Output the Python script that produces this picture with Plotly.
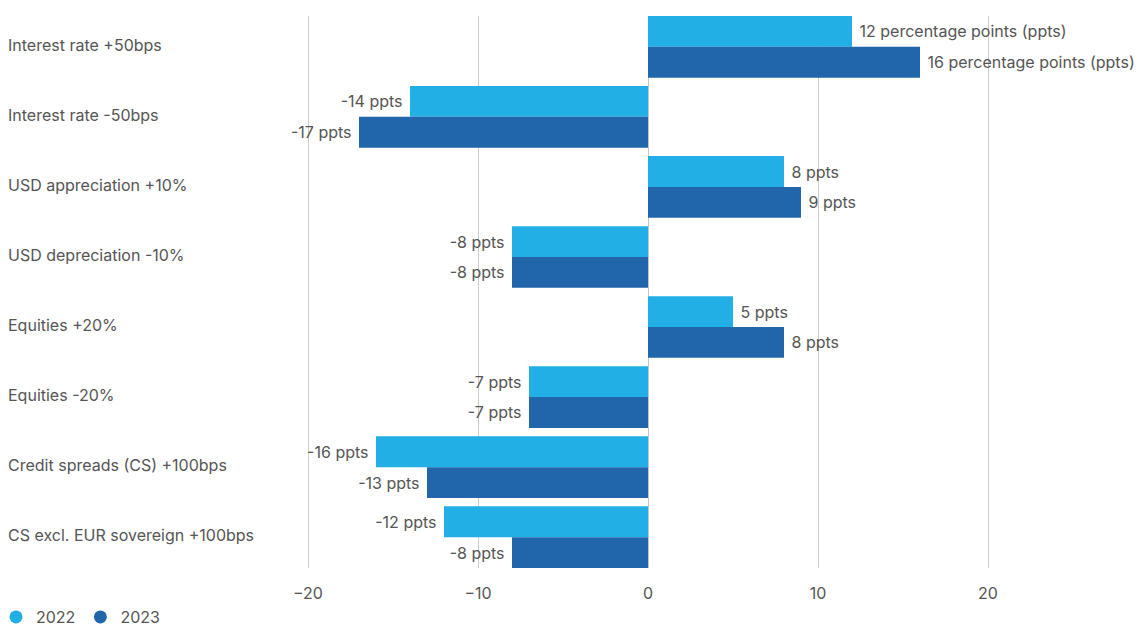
import plotly.graph_objects as go

# Stress scenarios and their impact (percentage points)
scenarios = [
    "Interest rate +50bps",
    "Interest rate -50bps",
    "USD appreciation +10%",
    "USD depreciation -10%",
    "Equities +20%",
    "Equities -20%",
    "Credit spreads (CS) +100bps",
    "CS excl. EUR sovereign +100bps",
]
values_2022 = [12, -14, 8, -8, 5, -7, -16, -12]
values_2023 = [16, -17, 9, -8, 8, -7, -13, -8]
tick_values = [-20, -10, 0, 10, 20]

LIGHT = "#21afe5"
DARK = "#2166ab"
TEXT = "#555555"
FONT = "Inter"
FS = 16

W, H = 1136, 626
ML, MR, MT, MB = 0, 0, 16, 58
x_lo, x_hi = -22.5, 28.5
px_per_unit = 17
zero_px = 648
dom_left = (zero_px + x_lo * px_per_unit) / W
dom_right = (zero_px + x_hi * px_per_unit) / W
BARGAP = 0.12
PAD = "\u00a0"


def label_texts(vals):
    out = []
    for i, v in enumerate(vals):
        body = f"{v} percentage points (ppts)" if i == 0 else f"{v} ppts"
        out.append(PAD + body if v >= 0 else body + PAD)
    return out


fig = go.Figure()
for name, vals, col in [("2022", values_2022, LIGHT), ("2023", values_2023, DARK)]:
    fig.add_trace(go.Bar(
        y=scenarios, x=vals, orientation="h", name=name,
        marker=dict(color=col, line=dict(width=0)),
        text=label_texts(vals), textposition="outside",
        textfont=dict(family=FONT, size=FS, color=TEXT),
        constraintext="none", cliponaxis=False, showlegend=False,
        hoverinfo="x+y",
    ))

# Round legend markers
for name, col in [("2022", LIGHT), ("2023", DARK)]:
    fig.add_trace(go.Scatter(
        x=[None], y=[None], mode="markers", name=name,
        marker=dict(symbol="circle", size=13, color=col),
        showlegend=True,
    ))

# Left-aligned category labels
for s in scenarios:
    fig.add_annotation(
        x=6 / W, xref="paper", y=s, yref="y", text=s, showarrow=False,
        xanchor="left", yanchor="middle", yshift=2,
        font=dict(family=FONT, size=FS, color=TEXT),
    )

# Plot area spans exactly from the first bar's top to the last bar's bottom
n = len(scenarios)
y_range = [n - 0.5 - BARGAP / 2, -0.5 + BARGAP / 2]

fig.update_layout(
    width=W, height=H,
    margin=dict(l=ML, r=MR, t=MT, b=MB, autoexpand=False),
    paper_bgcolor="white", plot_bgcolor="white",
    barmode="group", bargap=BARGAP, bargroupgap=0,
    font=dict(family=FONT, size=FS, color=TEXT),
    xaxis=dict(
        domain=[dom_left, dom_right], range=[x_lo, x_hi],
        tickvals=tick_values, showgrid=True, gridcolor="#cccccc", gridwidth=1,
        zeroline=True, zerolinecolor="#c4c4c4", zerolinewidth=1,
        showline=False, ticks="", tickfont=dict(family=FONT, size=FS, color=TEXT),
        ticklabelstandoff=14,
    ),
    yaxis=dict(
        range=y_range, showticklabels=False, showgrid=False,
        zeroline=False, showline=False, ticks="",
    ),
    legend=dict(
        orientation="h", x=-4 / W, xanchor="left",
        yref="container", y=(H - 617) / H, yanchor="middle",
        font=dict(family=FONT, size=FS, color=TEXT), itemwidth=30,
        bgcolor="rgba(0,0,0,0)", tracegroupgap=0,
    ),
)

fig.write_html("out.html")
